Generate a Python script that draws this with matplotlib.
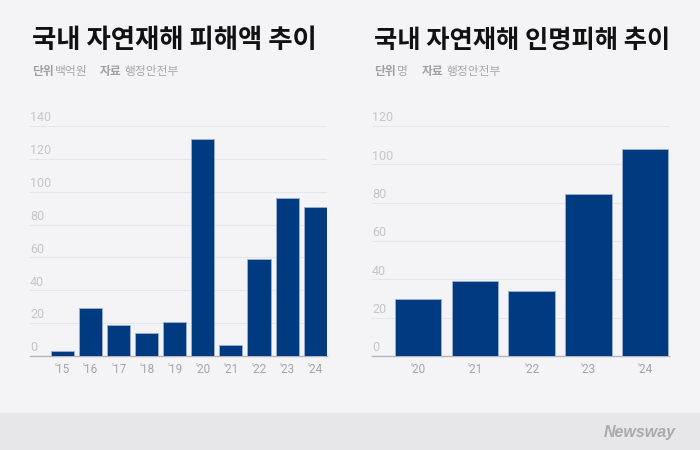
import matplotlib
matplotlib.use("Agg")
import matplotlib.pyplot as plt
from matplotlib.patches import Rectangle

plt.rcParams['font.family'] = ['Noto Sans CJK KR', 'DejaVu Sans']

# -------------------
# DATA
# -------------------
damage_years = ["'15", "'16", "'17", "'18", "'19", "'20", "'21", "'22", "'23", "'24"]
damage_values = [3, 29, 19, 14, 21, 132, 6.5, 59, 96, 91]   # 백억원

casualty_years = ["'20", "'21", "'22", "'23", "'24"]
casualty_values = [30, 39, 34, 84.5, 108]   # 명

left_ticks = [0, 20, 40, 60, 80, 100, 120, 140]
right_ticks = [0, 20, 40, 60, 80, 100, 120]

BG = "#f4f4f6"
NAVY = "#003b82"
W, H = 700, 450

fig = plt.figure(figsize=(7, 4.5), dpi=100, facecolor=BG)

# bottom strip
fig.patches.append(Rectangle((0, 0), 1, 37 / H, transform=fig.transFigure,
                             facecolor="#e7e7e9", edgecolor="none", zorder=0))
fig.text(640 / W, 1 - 432 / H, "Newsway", ha="center", va="center",
         fontsize=11.5, color="#aaaaaa", style="italic", weight="bold",
         family="Liberation Sans")


def draw_panel(rect, labels, values, ticks, xlim, title, tsize, unit):
    ax = fig.add_axes(rect)
    ax.set_facecolor(BG)
    x = range(len(values))
    ax.bar(x, values, width=0.82, color=NAVY, edgecolor="#9fb1d1",
           linewidth=0.6, zorder=3)
    ax.set_xlim(*xlim)
    ax.set_ylim(0, ticks[-1])
    for s in ["top", "right", "left"]:
        ax.spines[s].set_visible(False)
    ax.spines["bottom"].set_color("#b5b5b8")
    ax.spines["bottom"].set_linewidth(1)
    ax.set_yticks(ticks)
    ax.set_yticklabels([])
    ax.tick_params(axis="y", length=0)
    ax.grid(axis="y", color="#e6e6ea", linewidth=0.8, zorder=0)
    for t in ticks:
        ax.text(0, t + 1.0 * ticks[-1] / 140, str(t), transform=ax.get_yaxis_transform(),
                ha="left", va="bottom", fontsize=9, color="#c6c6c9",
                family="Roboto", clip_on=False)
    ax.set_xticks(list(x))
    ax.set_xticklabels(labels, fontsize=8.5, color="#a5a5a8", family="Roboto")
    ax.tick_params(axis="x", length=0, pad=5)

    left = rect[0]
    fig.text(left + 2 / W, 1 - 41 / H, title, ha="left", va="center",
             fontsize=tsize, weight="black", color="#111111")
    fig.text(left + 2 / W, 1 - 71 / H, "단위", ha="left", va="center",
             fontsize=8.5, weight="bold", color="#a0a0a3")
    fig.text(left + 25 / W, 1 - 71 / H, unit, ha="left", va="center",
             fontsize=8.5, color="#a8a8ab")
    off = 70 if len(unit) > 1 else 50
    fig.text(left + off / W, 1 - 71 / H, "자료", ha="left", va="center",
             fontsize=8.5, weight="bold", color="#a0a0a3")
    fig.text(left + (off + 24) / W, 1 - 71 / H, "행정안전부", ha="left", va="center",
             fontsize=8.5, color="#a8a8ab")
    return ax


draw_panel([30 / W, 1 - 356 / H, 297 / W, 230 / H], damage_years, damage_values,
           left_ticks, (-1.15, 9.42), "국내 자연재해 피해액 추이", 19, "백억원")
draw_panel([372 / W, 1 - 356 / H, 297 / W, 230 / H], casualty_years, casualty_values,
           right_ticks, (-0.81, 4.42), "국내 자연재해 인명피해 추이", 18.2, "명")

fig.savefig("out.png", dpi=100, facecolor=BG)
